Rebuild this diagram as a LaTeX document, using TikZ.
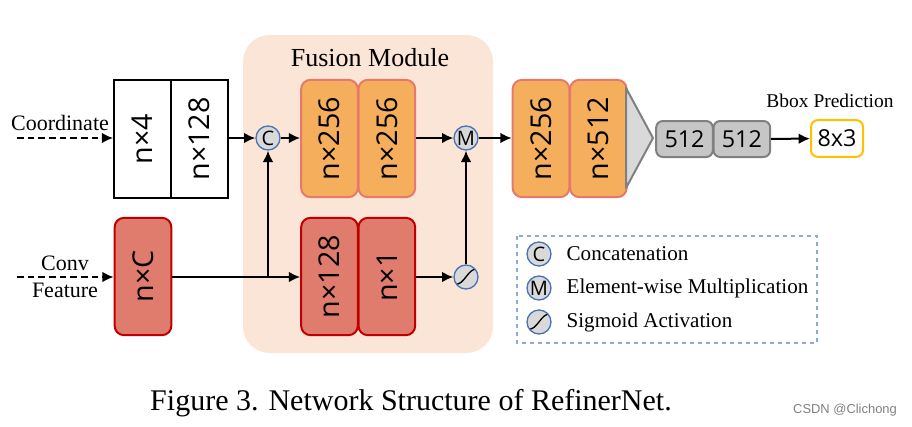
\documentclass[tikz,border=0pt]{standalone}
\usepackage{fontspec}
\setmainfont{Liberation Serif}
\setsansfont{Open Sans}
\newfontfamily\markfont{Liberation Sans}
\usepackage{tikz}
\usetikzlibrary{arrows.meta}
\usetikzlibrary{positioning}

\definecolor{fusebg}{HTML}{FBE5D6}
\definecolor{orangefill}{HTML}{F4AE5C}
\definecolor{orangedraw}{HTML}{E57A6C}
\definecolor{redfill}{HTML}{E07C6E}
\definecolor{reddraw}{HTML}{C00000}
\definecolor{opblue}{HTML}{4A72B8}
\definecolor{legblue}{HTML}{8EAADB}
\definecolor{predyellow}{HTML}{FFC000}

\newcommand{\vlabel}[1]{\rotatebox{90}{#1}}

\begin{document}
\begin{tikzpicture}[x=0.75pt, y=-0.75pt, >={Latex[length=8.5pt,width=8pt]}, line width=1.5pt]
      \tikzstyle{layer} = [draw, line width=1.5pt, minimum width=42.5pt, minimum height=88pt, inner sep=0pt,
         font=\sffamily\fontsize{21.5}{21.5}\selectfont]
      \tikzstyle{coord layer} = [layer, fill=white, draw=black]
      \tikzstyle{orange layer} = [layer, rounded corners=7pt, fill=orangefill, draw=orangedraw]
      \tikzstyle{red layer} = [layer, rounded corners=7pt, fill=redfill, draw=reddraw]
      \tikzstyle{fc layer} = [draw=gray, fill=gray!45, line width=1.5pt, rounded corners=5pt, minimum width=42.5pt,
         minimum height=27pt, inner sep=0pt, font=\sffamily\fontsize{17.5}{17.5}\selectfont]
      \tikzstyle{pred} = [fc layer, draw=predyellow, fill=white, minimum width=39pt, minimum height=27.5pt]
      \tikzstyle{op} = [circle, draw=opblue, fill=gray!30, line width=1pt, minimum size=18pt, inner sep=0pt,
         font=\sffamily\fontsize{15}{15}\selectfont]
      \tikzstyle{sigmoid} = [op, path picture={\draw[black, line width=1pt]
         ([shift={(-11,7)}]path picture bounding box.center) .. controls ([shift={(-2,9)}]path picture bounding box.center)
         and ([shift={(2,-9)}]path picture bounding box.center) .. ([shift={(11,-8)}]path picture bounding box.center);}]
      \tikzstyle{serif label} = [font=\fontsize{16.5}{16.5}\selectfont, inner sep=0pt]
      \tikzstyle{legend text} = [font=\fontsize{15.8}{15.8}\selectfont, inner sep=0pt, anchor=west]
      \tikzstyle{line} = [draw=black, line width=1.5pt, ->]
      \tikzstyle{input} = [line, dash pattern=on 5pt off 3pt]

      \useasboundingbox (0,0) rectangle (912,426);

      % fusion module background
      \fill[fusebg, rounded corners=20pt] (243,35) rectangle (493,353);
      \node[font=\fontsize{19.5}{19.5}\selectfont] (fusion) at (370,58) {Fusion Module};

      %nodes
      \node[coord layer] (coord4) at (142.5,139) {\vlabel{n×4}};
      \node[coord layer, right=-1.5pt of coord4] (coord128) {\vlabel{n×128}};
      \node[red layer] (convC) at (143,276.5) {\vlabel{n×C}};

      \node[op] (concat) at (268,138) {C};
      \node[orange layer] (fuse256a) at (329.5,138.5) {\vlabel{n×256}};
      \node[orange layer, right=-1pt of fuse256a] (fuse256b) {\vlabel{n×256}};
      \node[red layer] (gate128) at (329.5,276.5) {\vlabel{n×128}};
      \node[red layer, right=-1pt of gate128] (gate1) {\vlabel{n×1}};
      \node[op] (mult) at (466,138) {M};
      \node[sigmoid] (sig) at (466,277) {};

      \node[orange layer] (head256) at (541,138.5) {\vlabel{n×256}};
      \node[orange layer, right=-1pt of head256] (head512) {\vlabel{n×512}};
      \coordinate (poolA) at (626,88);
      \coordinate (poolB) at (653,138);
      \coordinate (poolC) at (626,188);
      \node[fc layer] (fc1) at (684.5,139) {512};
      \node[fc layer, right=-1pt of fc1] (fc2) {512};
      \node[pred] (bbox) at (837,138.5) {8x3};
      \node[font=\fontsize{14.6}{14.6}\selectfont] (bboxlabel) at (830,101) {Bbox Prediction};

      \node[serif label] (coordtext) at (60,123) {Coordinate};
      \node[serif label] (convtext) at (65,263) {Conv};
      \node[serif label] (feattext) at (65,290) {Feature};
      \coordinate (coordin) at (17,138);
      \coordinate (convin) at (17,277);
      \coordinate (split) at (268,277);

      %lines
      \draw[input] (coordin) -- (coordin -| coord4.west);
      \draw[input] (convin) -- (convin -| convC.west);
      \draw[line] (coord128.east |- concat) -- (concat);
      \draw[line] (concat) -- (concat -| fuse256a.west);
      \draw[line] (convC.east |- split) -- (split -| gate128.west);
      \draw[line] (split) -- (concat);
      \draw[line] (fuse256b.east |- mult) -- (mult);
      \draw[line] (gate1.east |- sig) -- (sig);
      \draw[line] (sig) -- (mult);
      \draw[line] (mult) -- (mult -| head256.west);
      \draw[draw=gray, fill=gray!30, line width=1.5pt, line join=round] (poolA) -- (poolB) -- (poolC) -- cycle;
      \draw[line] (fc2) -- (bbox);

      % legend
      \draw[legblue, dashed, line width=1pt] (517,236) rectangle (817,343);
      \node[op] (legconcat) at (539,254) {C};
      \node[op] (legmult) at (539,288) {M};
      \node[sigmoid] (legsig) at (539,322) {};
      \node[legend text, right=10.5pt of legconcat] (legconcattext) {Concatenation};
      \node[legend text, right=10.5pt of legmult] (legmulttext) {Element-wise Multiplication};
      \node[legend text, right=10.5pt of legsig] (legsigtext) {Sigmoid Activation};

      % caption
      \node[font=\fontsize{22.5}{22.5}\selectfont] (caption) at (411,403) {Figure 3. Network Structure of RefinerNet.};
      \node[font=\markfont\fontsize{9.7}{9.7}\selectfont, text=gray] (mark) at (845,410) {CSDN @Clichong};
\end{tikzpicture}
\end{document}
